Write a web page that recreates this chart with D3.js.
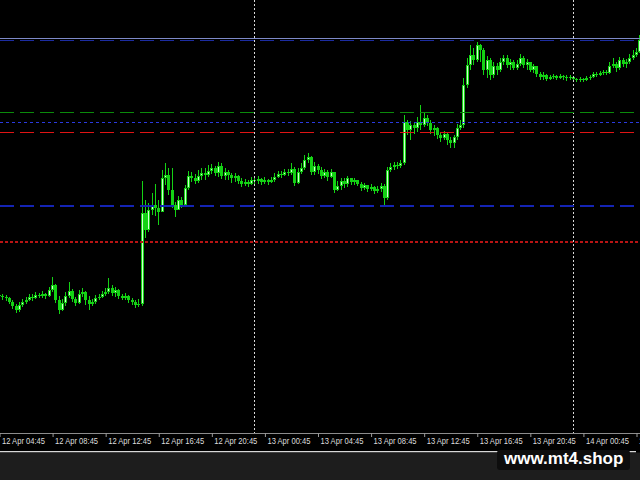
<!DOCTYPE html>
<html><head><meta charset="utf-8">
<script src="https://cdn.jsdelivr.net/npm/d3@7"></script>
<style>html,body{margin:0;padding:0;background:#000;overflow:hidden}</style>
</head><body><svg id="c" width="640" height="480"></svg>
<script>
// ---- data ----
const startTime = "2024-04-12T04:45:00Z";
const barMinutes = 15;
const firstOpen = 1.07705;
const closes = [
1.07704,1.07703,1.07702,1.07698,1.07694,1.07690,1.07695,1.07698,1.07700,1.07703,
1.07702,1.07705,1.07704,1.07706,1.07704,1.07710,1.07715,1.07700,1.07690,1.07697,
1.07704,1.07709,1.07701,1.07697,1.07706,1.07708,1.07700,1.07696,1.07698,1.07702,
1.07703,1.07706,1.07708,1.07712,1.07707,1.07710,1.07704,1.07702,1.07704,1.07700,
1.07698,1.07695,1.07696,
1.07787,1.07770,1.07790,1.07795,1.07792,1.07788,1.07822,1.07825,1.07810,1.07795,
1.07790,1.07800,1.07795,1.07812,1.07824,1.07822,1.07819,1.07824,1.07827,1.07825,
1.07829,1.07832,1.07827,1.07834,1.07824,1.07828,1.07825,1.07822,1.07824,1.07819,
1.07816,1.07818,1.07816,1.07820,1.07819,
1.07821,1.07818,1.07820,1.07818,1.07820,1.07823,1.07826,1.07825,1.07828,1.07827,
1.07831,1.07817,1.07828,1.07832,1.07840,1.07843,1.07828,1.07834,1.07830,1.07824,
1.07828,1.07823,1.07828,1.07810,1.07814,1.07819,1.07816,1.07822,1.07818,1.07820,
1.07816,1.07812,1.07815,1.07811,1.07813,1.07809,1.07811,1.07814,1.07802,1.07830,
1.07833,1.07835,1.07834,1.07837,
1.07878,1.07870,1.07875,1.07872,1.07878,1.07875,1.07882,1.07877,1.07870,1.07872,
1.07865,1.07862,1.07866,1.07860,1.07857,1.07863,1.07872,1.07875,1.07915,1.07935,
1.07945,1.07940,1.07955,1.07950,1.07930,1.07940,1.07925,1.07934,1.07930,1.07938,
1.07942,1.07935,1.07938,1.07932,1.07936,1.07942,1.07935,1.07938,1.07930,1.07934,
1.07926,1.07923,1.07925,1.07921,1.07923,1.07924,1.07922,1.07924,1.07923,1.07922,
1.07923,1.07921,1.07920,1.07921,1.07920,1.07922,1.07923,1.07926,1.07925,1.07927,
1.07928,1.07927,1.07934,1.07936,1.07932,1.07940,1.07936,1.07938,1.07942,1.07945,
1.07948,1.07960];
const highs = [
1.07707,1.07706,1.07705,1.07703,1.07700,1.07696,1.07698,1.07701,1.07703,1.07706,
1.07706,1.07708,1.07707,1.07709,1.07707,1.07713,1.07723,1.07716,1.07704,1.07701,
1.07708,1.07718,1.07711,1.07703,1.07710,1.07712,1.07709,1.07704,1.07701,1.07705,
1.07706,1.07709,1.07712,1.07722,1.07715,1.07713,1.07711,1.07706,1.07707,1.07705,
1.07702,1.07700,1.07701,
1.07819,1.07800,1.07797,1.07807,1.07816,1.07800,1.07830,1.07837,1.07832,1.07832,
1.07798,1.07804,1.07803,1.07815,1.07829,1.07828,1.07826,1.07830,1.07832,1.07832,
1.07835,1.07836,1.07834,1.07838,1.07837,1.07832,1.07830,1.07827,1.07827,1.07825,
1.07822,1.07821,1.07820,1.07823,1.07822,
1.07824,1.07822,1.07823,1.07821,1.07823,1.07827,1.07829,1.07829,1.07831,1.07831,
1.07837,1.07833,1.07832,1.07837,1.07845,1.07847,1.07844,1.07838,1.07836,1.07833,
1.07831,1.07830,1.07831,1.07828,1.07819,1.07822,1.07822,1.07824,1.07822,1.07822,
1.07820,1.07818,1.07817,1.07815,1.07816,1.07814,1.07814,1.07817,1.07816,1.07833,
1.07837,1.07838,1.07838,1.07840,
1.07885,1.07880,1.07879,1.07878,1.07883,1.07895,1.07888,1.07885,1.07880,1.07875,
1.07873,1.07868,1.07869,1.07867,1.07863,1.07865,1.07876,1.07880,1.07922,1.07942,
1.07955,1.07952,1.07958,1.07956,1.07952,1.07944,1.07942,1.07938,1.07937,1.07942,
1.07945,1.07945,1.07941,1.07940,1.07940,1.07946,1.07944,1.07941,1.07938,1.07936,
1.07934,1.07928,1.07928,1.07926,1.07925,1.07926,1.07925,1.07926,1.07925,1.07925,
1.07925,1.07924,1.07922,1.07923,1.07922,1.07924,1.07925,1.07928,1.07928,1.07929,
1.07930,1.07930,1.07938,1.07942,1.07938,1.07943,1.07942,1.07941,1.07946,1.07950,
1.07952,1.07965];
const lows = [
1.07701,1.07700,1.07699,1.07696,1.07691,1.07687,1.07688,1.07693,1.07696,1.07699,
1.07699,1.07701,1.07702,1.07702,1.07701,1.07703,1.07708,1.07697,1.07686,1.07689,
1.07694,1.07702,1.07698,1.07694,1.07696,1.07703,1.07695,1.07690,1.07694,1.07696,
1.07700,1.07702,1.07704,1.07706,1.07704,1.07703,1.07701,1.07700,1.07700,1.07697,
1.07695,1.07692,1.07693,
1.07694,1.07762,1.07768,1.07785,1.07784,1.07775,1.07788,1.07815,1.07805,1.07792,
1.07783,1.07790,1.07792,1.07794,1.07810,1.07818,1.07816,1.07817,1.07820,1.07820,
1.07823,1.07826,1.07824,1.07823,1.07821,1.07820,1.07820,1.07817,1.07818,1.07816,
1.07813,1.07814,1.07813,1.07815,1.07816,
1.07816,1.07815,1.07816,1.07815,1.07817,1.07818,1.07822,1.07822,1.07824,1.07824,
1.07825,1.07814,1.07816,1.07826,1.07830,1.07837,1.07825,1.07825,1.07826,1.07821,
1.07822,1.07819,1.07822,1.07807,1.07809,1.07810,1.07812,1.07813,1.07815,1.07815,
1.07814,1.07809,1.07810,1.07808,1.07809,1.07806,1.07807,1.07808,1.07795,1.07800,
1.07828,1.07830,1.07831,1.07832,
1.07835,1.07865,1.07860,1.07866,1.07868,1.07870,1.07873,1.07874,1.07866,1.07864,
1.07861,1.07858,1.07860,1.07855,1.07852,1.07852,1.07860,1.07870,1.07872,1.07912,
1.07930,1.07935,1.07938,1.07938,1.07925,1.07922,1.07920,1.07922,1.07925,1.07928,
1.07935,1.07932,1.07930,1.07930,1.07930,1.07934,1.07932,1.07930,1.07928,1.07927,
1.07923,1.07920,1.07920,1.07919,1.07920,1.07921,1.07920,1.07921,1.07920,1.07919,
1.07920,1.07919,1.07918,1.07918,1.07918,1.07919,1.07920,1.07922,1.07923,1.07924,
1.07925,1.07925,1.07926,1.07932,1.07928,1.07930,1.07933,1.07932,1.07936,1.07940,
1.07943,1.07947];
const levelPrices = [1.07962, 1.07960, 1.07888, 1.07878, 1.07868, 1.07795, 1.07759];
const separatorTimes = ["2024-04-13T00:00:00Z", "2024-04-14T00:00:00Z"];
const tickTimes = [
"2024-04-12T04:45:00Z","2024-04-12T08:45:00Z","2024-04-12T12:45:00Z","2024-04-12T16:45:00Z",
"2024-04-12T20:45:00Z","2024-04-13T00:45:00Z","2024-04-13T04:45:00Z","2024-04-13T08:45:00Z",
"2024-04-13T12:45:00Z","2024-04-13T16:45:00Z","2024-04-13T20:45:00Z","2024-04-14T00:45:00Z",
"2024-04-14T04:45:00Z"];
const watermark = "www.mt4.shop";

// ---- build ----
const t0 = new Date(startTime);
const bars = closes.map((c, i) => {
  const o = i === 0 ? firstOpen : closes[i - 1];
  return {
    t: new Date(t0.getTime() + i * barMinutes * 60000),
    o, c,
    h: Math.max(highs[i], o, c),
    l: Math.min(lows[i], o, c)
  };
});

const svg = d3.select("#c");
const axisY = 433;
const x = d3.scaleUtc()
  .domain([t0, new Date(t0.getTime() + 48 * 3600000)])
  .range([-1, 636]);
const y = d3.scaleLinear().domain([1.07567, 1.08000]).range([axisY, 0]);

svg.append("rect").attr("width", 640).attr("height", 480).attr("fill", "#000");

// candles
const gC = svg.append("g");
const up = "#14d214";
bars.forEach(b => {
  const cx = Math.round(x(b.t));
  gC.append("line")
    .attr("x1", cx + 0.5).attr("x2", cx + 0.5)
    .attr("y1", y(b.h)).attr("y2", y(b.l))
    .attr("stroke", up).attr("stroke-width", 1);
  const top = Math.min(y(b.o), y(b.c));
  const hgt = Math.max(1, Math.abs(y(b.o) - y(b.c)));
  gC.append("rect")
    .attr("x", cx - 1).attr("width", 3)
    .attr("y", top).attr("height", hgt)
    .attr("fill", up);
  if (b.c > b.o && hgt > 2) {
    gC.append("rect")
      .attr("x", cx).attr("width", 1)
      .attr("y", top + 1).attr("height", hgt - 2)
      .attr("fill", "#d0ffd0");
  }
});

// day separators
svg.append("g").selectAll("line").data(separatorTimes).join("line")
  .attr("x1", d => Math.round(x(new Date(d))) + 0.5)
  .attr("x2", d => Math.round(x(new Date(d))) + 0.5)
  .attr("y1", 0).attr("y2", axisY)
  .attr("stroke", "#d8d8d8").attr("stroke-width", 1)
  .attr("stroke-dasharray", "2,2");

// horizontal levels (drawn as crisp filled segments)
const levelStyles = [
  { color: "#7d89c8", on: 640, off: 0, h: 1 },
  { color: "#1c2ca0", on: 14, off: 6, h: 1 },
  { color: "#0b8a0b", on: 14, off: 6, h: 1 },
  { color: "#2a3ae0", on: 3, off: 3, h: 1 },
  { color: "#e01414", on: 14, off: 6, h: 1 },
  { color: "#1424b4", on: 14, off: 6, h: 2 },
  { color: "#b81414", on: 3, off: 2, h: 2 }
];
const gL = svg.append("g").attr("shape-rendering", "crispEdges");
levelPrices.forEach((p, i) => {
  const st = levelStyles[i];
  const period = st.on + st.off;
  const starts = d3.range(0, 640, period);
  gL.append("g").selectAll("rect").data(starts).join("rect")
    .attr("x", s => s).attr("width", st.on)
    .attr("y", Math.round(y(p))).attr("height", st.h)
    .attr("fill", st.color);
});

// axis
svg.append("line").attr("x1", 0).attr("x2", 640)
  .attr("y1", axisY + 0.5).attr("y2", axisY + 0.5)
  .attr("stroke", "#8c8c8c");
const fmt = d3.utcFormat("%d %b %H:%M");
const ax = svg.append("g").attr("transform", `translate(0.5,${axisY})`)
  .call(d3.axisBottom(x).tickValues(tickTimes.map(d => new Date(d)))
    .tickFormat(fmt).tickSize(4).tickSizeOuter(0));
ax.select(".domain").remove();
ax.selectAll(".tick line").attr("stroke", "#9a9a9a");
ax.selectAll(".tick text")
  .attr("fill", "#dddddd")
  .attr("font-family", "Liberation Sans, Arial, sans-serif")
  .attr("font-size", 9)
  .attr("text-anchor", "start")
  .attr("x", 2).attr("y", 5).attr("dy", "0.71em")
  .attr("textLength", 43).attr("lengthAdjust", "spacingAndGlyphs");

// bottom strip
svg.append("rect").attr("x", 0).attr("y", 451).attr("width", 636).attr("height", 1.5).attr("fill", "#d8d8d8");
svg.append("rect").attr("x", 0).attr("y", 452.5).attr("width", 640).attr("height", 28).attr("fill", "#1d1d1d");
svg.append("rect").attr("x", 497).attr("y", 450).attr("width", 133).attr("height", 20).attr("rx", 3).attr("fill", "#0d0d0d");
svg.append("text").attr("x", 504).attr("y", 463.5)
  .attr("fill", "#ffffff").attr("font-family", "Liberation Sans, Arial, sans-serif")
  .attr("font-weight", "bold").attr("font-size", 17)
  .text(watermark);
</script></body></html>
